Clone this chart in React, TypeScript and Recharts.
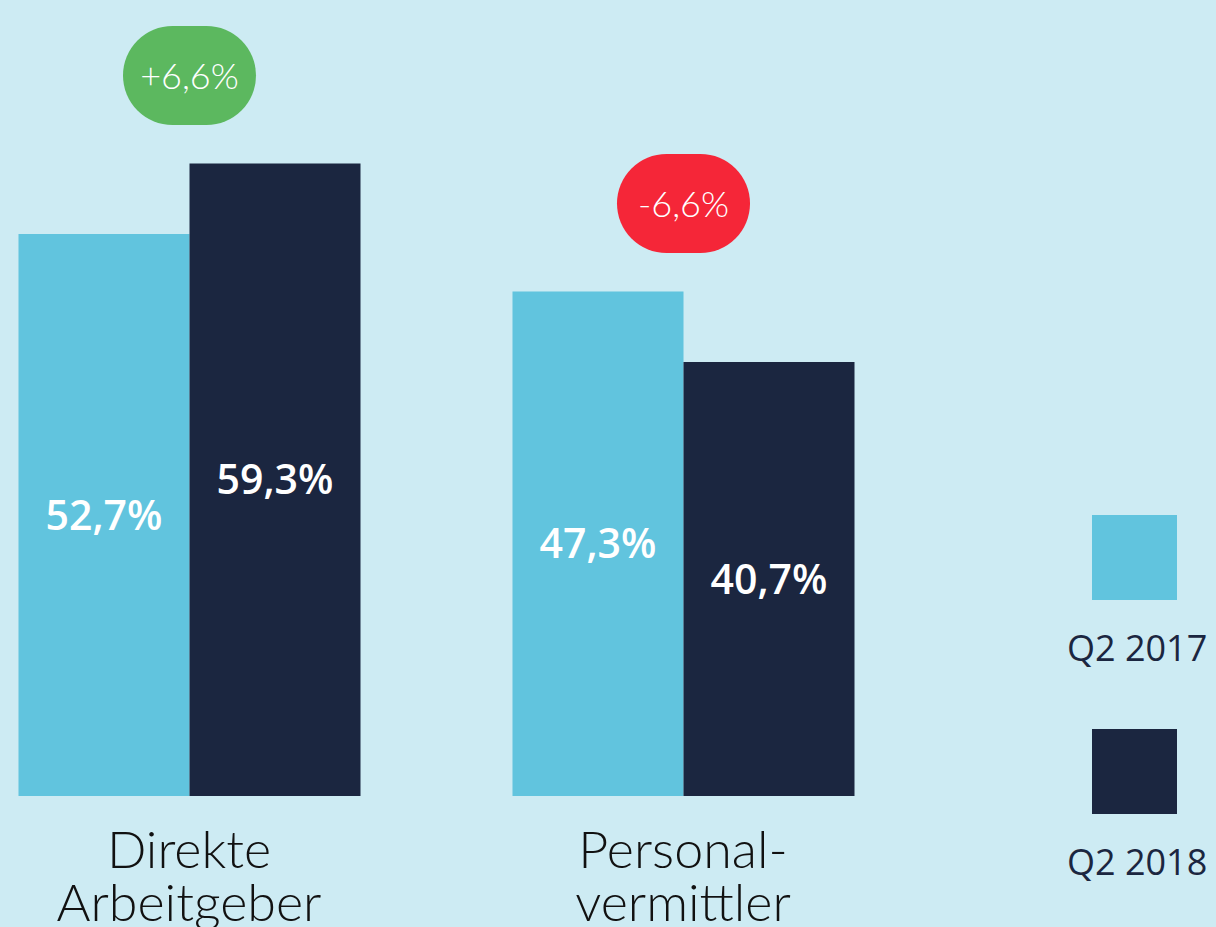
import React from 'react';
import { BarChart, Bar, XAxis, YAxis, LabelList } from 'recharts';

const categories = ['Direkte|Arbeitgeber', 'Personal-|vermittler'];
const q2017 = [52.7, 47.3];
const q2018 = [59.3, 40.7];
const changes = ['+6,6%', '-6,6%'];
const seriesNames = ['Q2 2017', 'Q2 2018'];

const BG = '#cdebf3';
const LIGHT = '#61c4de';
const NAVY = '#1b2640';

const data = categories.map((name, i) => ({ name, q2017: q2017[i], q2018: q2018[i] }));

const fmt = (v: number) => `${v.toFixed(1).replace('.', ',')}%`;

function CategoryTick(props: any) {
    const { x, y, payload } = props;
    const lines = String(payload.value).split('|');
    return (
        <g>
            {lines.map((line, i) => (
                <text
                    key={i}
                    x={x}
                    y={y + 72 + i * 53}
                    textAnchor="middle"
                    fill="#111"
                    fontSize={52}
                    fontWeight={300}
                    fontFamily="Lato, 'Open Sans', sans-serif"
                >
                    {line}
                </text>
            ))}
        </g>
    );
}

function ChangeBadge(props: any) {
    const { x, y, height, value, index } = props;
    if (!value) return null;
    const baseline = y + height;
    const perUnit = height / value;
    const top = baseline - Math.max(q2017[index], q2018[index]) * perUnit;
    const cx = x;
    const cy = top - 88;
    const label = changes[index];
    const color = label.startsWith('-') ? '#f52638' : '#5cb85f';
    return (
        <g>
            <rect x={cx - 66.5} y={cy - 49.5} width={133} height={99} rx={49.5} fill={color} />
            <text
                x={cx}
                y={cy + 13}
                textAnchor="middle"
                fill="#fff"
                fontSize={36}
                fontWeight={300}
                fontFamily="Lato, 'Open Sans', sans-serif"
            >
                {label}
            </text>
        </g>
    );
}

function LegendBlock() {
    const colors = [LIGHT, NAVY];
    return (
        <div style={{ position: 'absolute', left: 1067, top: 515, width: 150 }}>
            {seriesNames.map((s, i) => (
                <div key={s} style={{ height: 214, position: 'relative' }}>
                    <div style={{ position: 'absolute', left: 25, top: 0, width: 85, height: 85, background: colors[i] }} />
                    <div
                        style={{
                            position: 'absolute',
                            left: 0,
                            top: 108,
                            width: 170,
                            textAlign: 'left',
                            fontFamily: "'Open Sans', sans-serif",
                            fontSize: 36,
                            color: NAVY,
                            lineHeight: '50px',
                            whiteSpace: 'nowrap',
                        }}
                    >
                        {s}
                    </div>
                </div>
            ))}
        </div>
    );
}

export default function App() {
    return (
        <div style={{ position: 'absolute', left: 0, top: 0, width: 1216, height: 927, background: BG, overflow: 'hidden' }}>
            <div style={{ position: 'absolute', left: -58, top: 0 }}>
                <BarChart
                    width={1274}
                    height={927}
                    data={data}
                    margin={{ top: 49.45, right: 286, bottom: 0, left: 0 }}
                    barCategoryGap={76.5}
                    barGap={0}
                >
                    <XAxis
                        dataKey="name"
                        height={131}
                        axisLine={false}
                        tickLine={false}
                        tickSize={0}
                        tickMargin={0}
                        interval={0}
                        tick={<CategoryTick />}
                    />
                    <YAxis hide domain={[0, 70]} />
                    <Bar dataKey="q2017" name={seriesNames[0]} fill={LIGHT} isAnimationActive={false}>
                        <LabelList
                            dataKey="q2017"
                            position="center"
                            formatter={(v: any) => fmt(Number(v))}
                            fill="#fff"
                            fontSize={41}
                            fontWeight={600}
                            fontFamily="'Open Sans', sans-serif"
                        />
                    </Bar>
                    <Bar dataKey="q2018" name={seriesNames[1]} fill={NAVY} isAnimationActive={false}>
                        <LabelList
                            dataKey="q2018"
                            position="center"
                            formatter={(v: any) => fmt(Number(v))}
                            fill="#fff"
                            fontSize={41}
                            fontWeight={600}
                            fontFamily="'Open Sans', sans-serif"
                        />
                        <LabelList dataKey="q2018" content={<ChangeBadge />} />
                    </Bar>
                </BarChart>
            </div>
            <LegendBlock />
        </div>
    );
}
